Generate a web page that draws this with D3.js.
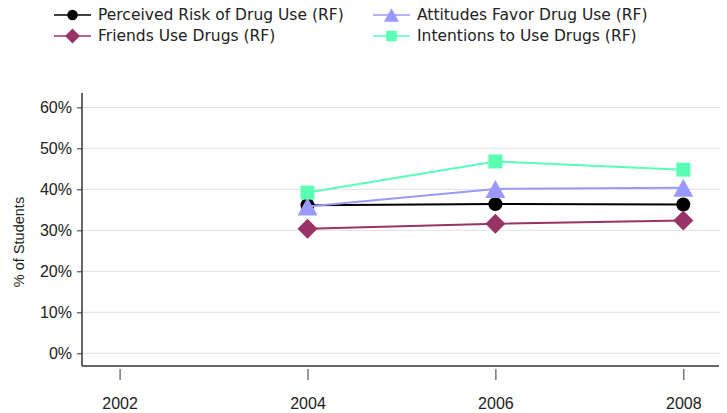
<!DOCTYPE html>
<html>
<meta charset="utf-8">
<style>
  body { margin: 0; background: #fff; }
  svg text { fill: #222; }
</style>
<body>
<svg width="727" height="413"></svg>
<script src="https://cdn.jsdelivr.net/npm/d3@7"></script>
<script>
// chart data
const years = [2004, 2006, 2008];
const xTicks = [2002, 2004, 2006, 2008];
const yTicks = [0, 10, 20, 30, 40, 50, 60];
const seriesNames = ["Perceived Risk of Drug Use (RF)", "Friends Use Drugs (RF)", "Attitudes Favor Drug Use (RF)", "Intentions to Use Drugs (RF)"];
const riskValues = [36.1, 36.4, 36.3];
const friendsValues = [30.4, 31.6, 32.4];
const attitudesValues = [35.8, 40.1, 40.4];
const intentionsValues = [39.2, 46.8, 44.8];

const colors = ["#000000", "#993366", "#9999ff", "#59ffb3"];
const shapes = ["circle", "diamond", "triangle", "square"];
const seriesValues = [riskValues, friendsValues, attitudesValues, intentionsValues];

const svg = d3.select("svg");

const x = d3.scaleLinear().domain([2001.6, 2008.38]).range([82, 719]);
const y = d3.scaleLinear().domain([-3.1, 63.5]).range([366, 93]);

// grid lines
svg.append("g").selectAll("line").data(yTicks).enter().append("line")
  .attr("x1", 82).attr("x2", 720)
  .attr("y1", d => y(d)).attr("y2", d => y(d))
  .attr("stroke", "#e0e0e0").attr("stroke-width", 1);

// y axis
const yAxis = svg.append("g")
  .attr("transform", "translate(82,0)")
  .call(d3.axisLeft(y).tickValues(yTicks).tickSize(5).tickPadding(5).tickFormat(d => d + "%"));
yAxis.select(".domain").attr("stroke", "#333").attr("stroke-width", 1.5).attr("d", "M0,93V366");
yAxis.selectAll(".tick line").attr("stroke", "#333");
yAxis.selectAll("text").style("font-family", "'Liberation Sans', Arial, sans-serif").style("font-size", "16px");

// x axis line
svg.append("line")
  .attr("x1", 82).attr("x2", 719).attr("y1", 366).attr("y2", 366)
  .attr("stroke", "#333").attr("stroke-width", 1.5);

// x axis (ticks detached from the line)
const xAxis = svg.append("g")
  .attr("transform", "translate(0,369)")
  .call(d3.axisBottom(x).tickValues(xTicks).tickSize(11).tickPadding(18).tickFormat(d3.format("d")));
xAxis.select(".domain").remove();
xAxis.selectAll(".tick line").attr("stroke", "#333");
xAxis.selectAll("text").style("font-family", "'Liberation Sans', Arial, sans-serif").style("font-size", "16px");

// y axis title
svg.append("text")
  .attr("transform", "translate(24,242) rotate(-90)")
  .attr("text-anchor", "middle")
  .style("font-family", "'Liberation Sans', Arial, sans-serif")
  .style("font-size", "14.5px")
  .text("% of Students");

function marker(sel, shape, color, s) {
  if (shape === "circle") {
    sel.append("circle").attr("r", 7 * s).attr("fill", color);
  } else if (shape === "diamond") {
    const r = 10 * s;
    sel.append("path").attr("d", `M0,${-r}L${r},0L0,${r}L${-r},0Z`).attr("fill", color);
  } else if (shape === "triangle") {
    const w = 10 * s, h = 9 * s;
    sel.append("path").attr("d", `M0,${-h}L${w},${h}L${-w},${h}Z`).attr("fill", color);
  } else {
    const r = 7 * s;
    sel.append("rect").attr("x", -r).attr("y", -r).attr("width", 2 * r).attr("height", 2 * r).attr("fill", color);
  }
}

const line = d3.line().x((d, i) => x(years[i])).y(d => y(d));

// lines and markers
seriesValues.forEach((vals, k) => {
  const g = svg.append("g");
  g.append("path").datum(vals)
    .attr("d", line)
    .attr("fill", "none")
    .attr("stroke", colors[k])
    .attr("stroke-width", 2);
  vals.forEach((v, i) => {
    const m = g.append("g").attr("transform", `translate(${x(years[i])},${y(v)})`);
    marker(m, shapes[k], colors[k], 1);
  });
});

// legend
const legendPos = [[54, 15], [54, 36], [373, 15], [373, 36]];
seriesNames.forEach((name, k) => {
  const g = svg.append("g").attr("transform", `translate(${legendPos[k][0]},${legendPos[k][1]})`);
  g.append("line").attr("x1", 0).attr("x2", 37).attr("stroke", colors[k]).attr("stroke-width", 1.5);
  const m = g.append("g").attr("transform", "translate(18.5,0)");
  marker(m, shapes[k], colors[k], 0.75);
  g.append("text")
    .attr("x", 44).attr("dy", "0.35em")
    .style("font-family", "'DejaVu Sans', Verdana, sans-serif")
    .style("font-size", "15.5px")
    .text(name);
});
</script>
</body>
</html>
